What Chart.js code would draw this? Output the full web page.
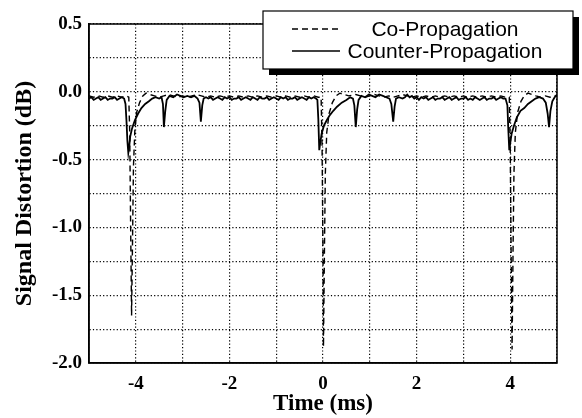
<!DOCTYPE html>
<html>
<head>
<meta charset="utf-8">
<script src="https://cdn.jsdelivr.net/npm/chart.js@4"></script>
<style>
  html, body { margin: 0; padding: 0; background: #fff; }
  #wrap { width: 582px; height: 418px; }
</style>
</head>
<body>
<div id="wrap"><canvas id="grafico" width="582" height="418"></canvas></div>
<script>
// Datos: [tiempo (ms), distorsión (dB)]
const coPropagation = [
  [-5.00,-0.03],[-4.90,-0.04],[-4.80,-0.03],[-4.70,-0.04],[-4.60,-0.03],[-4.50,-0.04],[-4.40,-0.03],[-4.30,-0.04],[-4.20,-0.03],
  [-4.15,-0.04],[-4.13,-0.30],[-4.11,-1.00],[-4.09,-1.65],[-4.07,-1.10],[-4.05,-0.55],[-4.02,-0.28],[-3.98,-0.15],[-3.92,-0.08],
  [-3.85,-0.03],[-3.78,-0.01],[-3.70,-0.02],[-3.60,-0.03],[-3.50,-0.04],[-3.40,-0.03],[-3.30,-0.02],[-3.20,-0.03],[-3.10,-0.04],
  [-3.00,-0.03],[-2.90,-0.04],[-2.80,-0.03],[-2.70,-0.02],[-2.60,-0.03],[-2.50,-0.04],[-2.40,-0.03],[-2.30,-0.04],[-2.20,-0.03],
  [-2.10,-0.04],[-2.00,-0.03],[-1.90,-0.04],[-1.80,-0.03],[-1.70,-0.04],[-1.60,-0.03],[-1.50,-0.04],[-1.40,-0.03],[-1.30,-0.04],
  [-1.20,-0.03],[-1.10,-0.04],[-1.00,-0.03],[-0.90,-0.04],[-0.80,-0.03],[-0.70,-0.04],[-0.60,-0.03],[-0.50,-0.04],[-0.40,-0.03],
  [-0.30,-0.04],[-0.20,-0.03],[-0.10,-0.04],
  [-0.04,-0.04],[-0.02,-0.40],[0.00,-1.20],[0.01,-1.88],[0.03,-1.20],[0.05,-0.60],[0.08,-0.30],[0.13,-0.16],[0.20,-0.08],
  [0.28,-0.03],[0.36,-0.01],[0.45,-0.02],[0.55,-0.03],[0.70,-0.02],[0.80,-0.03],[0.90,-0.04],[1.00,-0.03],[1.10,-0.02],
  [1.20,-0.03],[1.30,-0.04],[1.40,-0.03],[1.50,-0.04],[1.60,-0.03],[1.70,-0.02],[1.80,-0.03],[1.90,-0.04],[2.00,-0.03],
  [2.10,-0.04],[2.20,-0.03],[2.30,-0.04],[2.40,-0.03],[2.50,-0.04],[2.60,-0.03],[2.70,-0.04],[2.80,-0.03],[2.90,-0.04],
  [3.00,-0.03],[3.10,-0.04],[3.20,-0.03],[3.30,-0.04],[3.40,-0.03],[3.50,-0.04],[3.60,-0.03],[3.70,-0.04],[3.80,-0.03],
  [3.90,-0.04],
  [3.98,-0.04],[4.00,-0.40],[4.02,-1.20],[4.04,-1.90],[4.06,-1.20],[4.08,-0.60],[4.11,-0.30],[4.16,-0.15],[4.23,-0.07],
  [4.30,-0.03],[4.38,-0.01],[4.46,-0.02],[4.55,-0.03],[4.65,-0.04],[4.75,-0.03],[4.85,-0.04],[4.95,-0.03],[5.00,-0.03]
];

const counterPropagation = [
  [-5.00,-0.05],[-4.95,-0.04],[-4.90,-0.06],[-4.85,-0.05],[-4.80,-0.04],[-4.75,-0.06],[-4.70,-0.05],[-4.65,-0.04],
  [-4.60,-0.06],[-4.55,-0.05],[-4.50,-0.05],[-4.45,-0.04],[-4.40,-0.06],[-4.35,-0.05],[-4.30,-0.04],[-4.25,-0.05],
  [-4.22,-0.09],[-4.20,-0.21],[-4.18,-0.36],[-4.16,-0.45],[-4.14,-0.40],[-4.12,-0.33],[-4.08,-0.27],[-4.02,-0.21],
  [-3.95,-0.16],[-3.88,-0.12],[-3.80,-0.09],[-3.72,-0.07],[-3.65,-0.05],[-3.58,-0.04],[-3.50,-0.05],[-3.45,-0.04],
  [-3.42,-0.09],[-3.40,-0.26],[-3.37,-0.14],[-3.34,-0.06],[-3.28,-0.03],[-3.20,-0.04],[-3.12,-0.02],[-3.05,-0.03],
  [-2.98,-0.04],[-2.90,-0.03],[-2.82,-0.04],[-2.75,-0.03],[-2.68,-0.05],[-2.64,-0.08],[-2.61,-0.22],[-2.58,-0.10],
  [-2.55,-0.05],[-2.50,-0.04],[-2.45,-0.05],[-2.40,-0.04],[-2.35,-0.06],[-2.30,-0.05],[-2.25,-0.04],[-2.20,-0.05],
  [-2.15,-0.06],[-2.10,-0.04],[-2.05,-0.05],[-2.00,-0.04],[-1.95,-0.06],[-1.90,-0.05],[-1.85,-0.05],[-1.80,-0.04],
  [-1.75,-0.06],[-1.70,-0.05],[-1.65,-0.04],[-1.60,-0.05],[-1.55,-0.06],[-1.50,-0.04],[-1.45,-0.05],[-1.40,-0.06],
  [-1.35,-0.04],[-1.30,-0.05],[-1.25,-0.05],[-1.20,-0.04],[-1.15,-0.06],[-1.10,-0.05],[-1.05,-0.04],[-1.00,-0.05],
  [-0.95,-0.06],[-0.90,-0.04],[-0.85,-0.05],[-0.80,-0.04],[-0.75,-0.06],[-0.70,-0.05],[-0.65,-0.05],[-0.60,-0.04],
  [-0.55,-0.06],[-0.50,-0.05],[-0.45,-0.04],[-0.40,-0.05],[-0.35,-0.06],[-0.30,-0.04],[-0.25,-0.05],[-0.20,-0.04],
  [-0.15,-0.05],[-0.12,-0.06],
  [-0.10,-0.20],[-0.08,-0.43],[-0.06,-0.38],[-0.03,-0.31],[0.02,-0.25],[0.08,-0.21],[0.15,-0.17],[0.22,-0.14],
  [0.30,-0.11],[0.40,-0.08],[0.50,-0.06],[0.58,-0.04],[0.64,-0.05],[0.67,-0.10],[0.70,-0.26],[0.73,-0.13],
  [0.76,-0.06],[0.82,-0.03],[0.90,-0.04],[0.98,-0.02],[1.05,-0.03],[1.12,-0.04],[1.20,-0.02],[1.28,-0.03],
  [1.35,-0.04],[1.42,-0.05],[1.46,-0.09],[1.50,-0.22],[1.53,-0.11],[1.56,-0.05],[1.62,-0.04],[1.70,-0.05],
  [1.75,-0.04],[1.80,-0.02],[1.85,-0.04],[1.90,-0.03],[1.95,-0.05],[2.00,-0.04],[2.05,-0.06],[2.10,-0.04],
  [2.15,-0.05],[2.20,-0.04],[2.25,-0.06],[2.30,-0.05],[2.35,-0.04],[2.40,-0.06],[2.45,-0.05],[2.50,-0.05],
  [2.55,-0.04],[2.60,-0.06],[2.65,-0.05],[2.70,-0.04],[2.75,-0.06],[2.80,-0.05],[2.85,-0.04],[2.90,-0.06],
  [2.95,-0.05],[3.00,-0.05],[3.05,-0.04],[3.10,-0.06],[3.15,-0.05],[3.20,-0.06],[3.25,-0.04],[3.30,-0.05],
  [3.35,-0.06],[3.40,-0.05],[3.45,-0.04],[3.50,-0.06],[3.55,-0.05],[3.60,-0.05],[3.65,-0.04],[3.70,-0.06],
  [3.75,-0.05],[3.80,-0.04],[3.85,-0.05],[3.90,-0.05],
  [3.94,-0.10],[3.96,-0.28],[3.98,-0.43],[4.00,-0.38],[4.03,-0.31],[4.08,-0.25],[4.14,-0.19],[4.22,-0.14],
  [4.30,-0.12],[4.38,-0.09],[4.46,-0.07],[4.54,-0.05],[4.62,-0.04],[4.70,-0.05],[4.76,-0.08],[4.80,-0.16],
  [4.83,-0.26],[4.86,-0.14],[4.90,-0.07],[4.95,-0.04],[5.00,-0.02]
];

// Etiquetas de los ejes
const xLabels = [-4, -2, 0, 2, 4];
const yLabels = [0.5, 0, -0.5, -1, -1.5, -2];

const serif = "'Liberation Serif', 'Times New Roman', serif";
const sans = "'Liberation Sans', Arial, sans-serif";

// Marco del área y leyenda con sombra
const marco = {
  id: 'marco',
  afterDraw(c) {
    const ctx = c.ctx;
    const a = c.chartArea;
    ctx.save();
    ctx.strokeStyle = '#000';
    ctx.lineWidth = 1.5;
    ctx.strokeRect(a.left, a.top, a.right - a.left, a.bottom - a.top);

    // leyenda
    const bx = a.right - 294, by = a.top - 13, bw = 310, bh = 58;
    ctx.fillStyle = '#000';
    ctx.fillRect(bx + 6, by + 6, bw, bh);
    ctx.fillStyle = '#fff';
    ctx.fillRect(bx, by, bw, bh);
    ctx.lineWidth = 1.2;
    ctx.strokeRect(bx, by, bw, bh);

    ctx.font = '21px ' + sans;
    ctx.fillStyle = '#000';
    ctx.textAlign = 'center';
    ctx.textBaseline = 'middle';
    c.data.datasets.forEach((ds, i) => {
      const ly = by + 18 + i * 22;
      ctx.beginPath();
      ctx.setLineDash(ds.borderDash || []);
      ctx.lineWidth = 1.5;
      ctx.moveTo(bx + 29, ly);
      ctx.lineTo(bx + 77, ly);
      ctx.stroke();
      ctx.setLineDash([]);
      ctx.fillText(ds.label, bx + 182, ly + 1);
    });
    ctx.restore();
  }
};

const ctx = document.getElementById('grafico').getContext('2d');
const chart = new Chart(ctx, {
  type: 'line',
  data: {
    datasets: [
      {
        label: 'Co-Propagation',
        data: coPropagation.map(p => ({ x: p[0], y: p[1] })),
        borderColor: '#000',
        borderWidth: 1.4,
        borderDash: [6, 4],
        pointRadius: 0,
        tension: 0,
        order: 2
      },
      {
        label: 'Counter-Propagation',
        data: counterPropagation.map(p => ({ x: p[0], y: p[1] })),
        borderColor: '#000',
        borderWidth: 1.8,
        pointRadius: 0,
        tension: 0,
        order: 1
      }
    ]
  },
  options: {
    responsive: false,
    animation: false,
    layout: { padding: { top: 24, right: 25, left: 0, bottom: 0 } },
    plugins: { legend: { display: false }, tooltip: { enabled: false } },
    scales: {
      x: {
        type: 'linear',
        min: -5, max: 5,
        afterFit: s => { s.height = 55; },
        grid: { color: '#000', lineWidth: 1.2, drawTicks: false },
        border: { display: true, color: '#000', width: 1.5, dash: [1.2, 2.2] },
        ticks: {
          stepSize: 1, padding: 10, color: '#000',
          font: { family: serif, size: 19, weight: 'bold' },
          maxRotation: 0, autoSkip: false,
          callback: v => xLabels.includes(v) ? String(v) : ''
        },
        title: {
          display: true, text: 'Time (ms)', color: '#000',
          font: { family: serif, size: 23, weight: 'bold' },
          padding: { top: 0, bottom: 0 }
        }
      },
      y: {
        min: -2, max: 0.5,
        afterFit: s => { s.width = 89; },
        grid: { color: '#000', lineWidth: 1.2, drawTicks: false },
        border: { display: true, color: '#000', width: 1.5, dash: [1.2, 2.2] },
        ticks: {
          stepSize: 0.25, padding: 7, color: '#000',
          font: { family: serif, size: 19, weight: 'bold' },
          autoSkip: false,
          callback: v => yLabels.some(l => Math.abs(l - v) < 1e-6) ? (Math.abs(v) < 1e-6 ? '0.0' : v.toFixed(1)) : ''
        },
        title: {
          display: true, text: 'Signal Distortion (dB)', color: '#000',
          font: { family: serif, size: 24, weight: 'bold' },
          padding: { top: 10, bottom: 0 }
        }
      }
    }
  },
  plugins: [marco]
});
</script>
</body>
</html>
